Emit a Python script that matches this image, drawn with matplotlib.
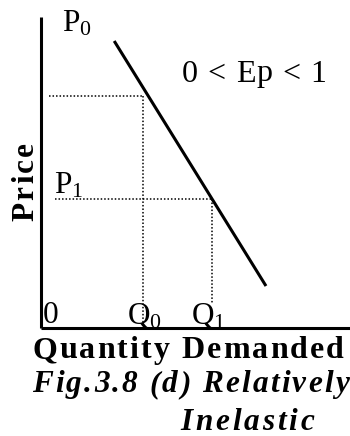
import matplotlib
matplotlib.use("Agg")
import matplotlib.pyplot as plt
from matplotlib.font_manager import FontProperties, findfont, get_font

plt.rcParams['font.family'] = ['Liberation Serif', 'DejaVu Serif']
plt.rcParams['mathtext.fontset'] = 'custom'
plt.rcParams['mathtext.rm'] = 'Liberation Serif'
plt.rcParams['mathtext.it'] = 'Liberation Serif:italic'

# demand curve (quantity, price) in chart units
demand_q = [2.44, 7.5]
demand_p = [9.57, 1.4]
# the two points marked on the curve
q_levels = [3.39, 5.71]   # Q0, Q1
p_levels = [7.72, 4.30]   # P0 level, P1 level
guide_left = [0.27, 0.47]  # where the dotted price lines start
guide_floor = [0.0, 0.83]  # where the dotted quantity lines stop

W, H, DPI = 350, 436, 100
fig = plt.figure(figsize=(W / DPI, H / DPI), dpi=DPI)
fig.patch.set_facecolor("white")

# axes box: origin at (41, 328) px, top of y axis at 17 px
ax = fig.add_axes([41 / W, (H - 328) / H, (W - 41) / W, (328 - 17) / H])
ax.set_xlim(0, 10.3)
ax.set_ylim(0, 10.37)
ax.axis("off")

# axis lines
ax.plot([0, 0], [0, 10.37], color="black", lw=2.2, solid_capstyle="butt", clip_on=False)
ax.plot([0, 10.3], [0, 0], color="black", lw=2.2, solid_capstyle="butt", clip_on=False)

ax.plot(demand_q, demand_p, color="black", lw=2.2, solid_capstyle="butt")

dots = dict(color="black", lw=1.1, linestyle=(0, (1.0, 1.3)))
for q, p, x0, y0 in zip(q_levels, p_levels, guide_left, guide_floor):
    ax.plot([x0, q], [p, p], **dots)
    ax.plot([q, q], [p, y0], **dots)


def fx(x):
    return x / W


def fy(y):
    return 1 - y / H


def spaced(text, left, right, base, size, weight="normal", style="normal", vertical=False):
    # letter-spaced text stretched between left and right (pixels)
    fp = FontProperties(family="Liberation Serif", size=size, weight=weight, style=style)
    ft = get_font(findfont(fp))
    ft.set_size(size, DPI)
    advs = []
    for ch in text:
        g = ft.load_char(ord(ch))
        advs.append(g.linearHoriAdvance / 65536)
    gap = (abs(right - left) - sum(advs)) / (len(text) - 1)
    pos = 0
    for ch, a in zip(text, advs):
        if vertical:
            fig.text(fx(base), fy(left - pos), ch, fontproperties=fp, rotation=90,
                     rotation_mode="anchor", ha="left", va="baseline")
        else:
            fig.text(fx(left + pos), fy(base), ch, fontproperties=fp,
                     ha="left", va="baseline")
        pos += a + gap


spaced("0 < Ep < 1", 182, 326, 81.5, 23)
spaced("Quantity Demanded", 32, 344, 358, 23, weight="bold")
spaced("Fig.3.8 (d) Relatively", 32, 349, 392, 22.5, weight="bold", style="italic")
spaced("Inelastic", 180, 314, 430, 22.5, weight="bold", style="italic")
spaced("Price", 221, 142, 33, 22.5, weight="bold", vertical=True)

lab = dict(fontsize=22.5, ha="left", va="baseline")
fig.text(fx(62), fy(32), r"$\mathrm{P}_0$", **lab)
fig.text(fx(54), fy(193), r"$\mathrm{P}_1$", **lab)
fig.text(fx(43), fy(323), "0", **lab)
fig.text(fx(127), fy(324), r"$\mathrm{Q}_0$", **lab)
fig.text(fx(191), fy(324), r"$\mathrm{Q}_1$", **lab)

fig.savefig("out.png", dpi=DPI, facecolor="white")
